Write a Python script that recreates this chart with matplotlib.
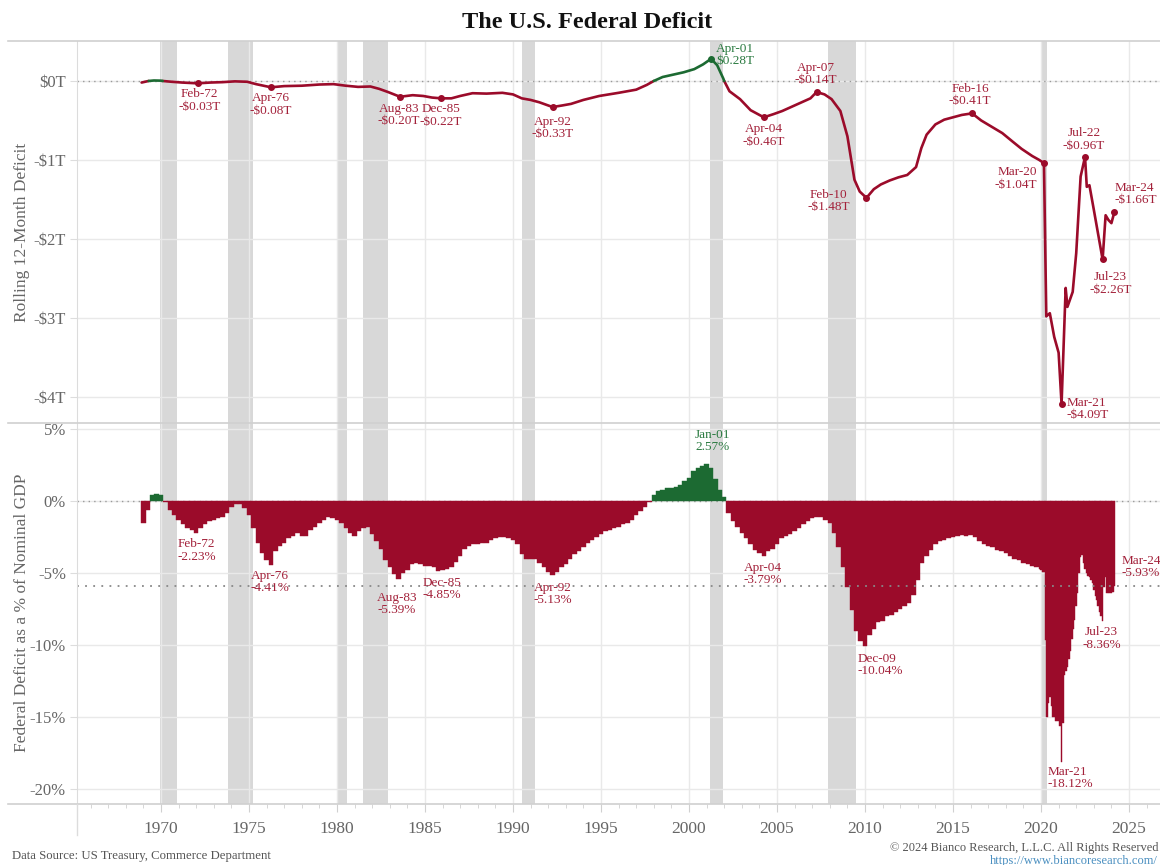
import numpy as np
import matplotlib
matplotlib.use("Agg")
import matplotlib.pyplot as plt
from matplotlib.lines import Line2D
from matplotlib.ticker import MultipleLocator, FixedLocator

# ---------------- DATA ----------------
# Rolling 12-month deficit ($ trillions), decimal years
line_years = [1968.9, 1969.3, 1969.6, 1970.0, 1970.1, 1970.6, 1971.2, 1972.083, 1972.8, 1973.5,
              1974.2, 1974.9, 1975.4, 1976.25, 1977.0, 1978.0, 1979.0, 1979.8, 1980.5, 1981.2,
              1981.9, 1982.4, 1982.9, 1983.583, 1984.3, 1984.9, 1985.4, 1985.917, 1986.5, 1987.0,
              1987.7, 1988.5, 1989.4, 1990.0, 1990.5, 1991.0, 1991.5, 1992.25, 1992.8, 1993.3,
              1994.0, 1994.9, 1996.0, 1997.0, 1997.6, 1998.0, 1998.5, 1999.1, 1999.7, 2000.3,
              2000.8, 2001.25, 2001.6, 2001.95, 2002.0, 2002.3, 2002.9, 2003.5, 2004.25, 2004.8,
              2005.3, 2005.8, 2006.4, 2006.9, 2007.25, 2007.7, 2008.1, 2008.6, 2009.0, 2009.4,
              2009.7, 2010.083, 2010.5, 2010.9, 2011.4, 2011.9, 2012.4, 2012.9, 2013.2, 2013.5,
              2014.0, 2014.5, 2015.0, 2015.5, 2016.083, 2016.6, 2017.2, 2017.8, 2018.4, 2018.9,
              2019.5, 2019.9, 2020.167, 2020.3, 2020.5, 2020.75, 2021.0, 2021.167, 2021.4, 2021.5,
              2021.8, 2022.0, 2022.25, 2022.5, 2022.6, 2022.75, 2023.0, 2023.5, 2023.67, 2023.83,
              2024.0, 2024.167]
line_values = [-0.02, 0.0, 0.006, 0.004, 0.0, -0.01, -0.02, -0.03, -0.02, -0.015,
               -0.005, -0.01, -0.04, -0.08, -0.065, -0.06, -0.045, -0.04, -0.06, -0.075,
               -0.07, -0.10, -0.14, -0.20, -0.18, -0.19, -0.21, -0.22, -0.22, -0.19,
               -0.155, -0.16, -0.15, -0.17, -0.22, -0.24, -0.27, -0.33, -0.31, -0.29,
               -0.24, -0.19, -0.15, -0.11, -0.05, 0.0, 0.05, 0.08, 0.11, 0.15,
               0.21, 0.28, 0.20, 0.03, 0.0, -0.13, -0.23, -0.37, -0.46, -0.42,
               -0.38, -0.33, -0.27, -0.22, -0.14, -0.17, -0.23, -0.38, -0.70, -1.25,
               -1.40, -1.48, -1.37, -1.31, -1.26, -1.22, -1.19, -1.09, -0.85, -0.68,
               -0.55, -0.49, -0.46, -0.43, -0.41, -0.50, -0.58, -0.66, -0.77, -0.86,
               -0.95, -1.00, -1.04, -2.98, -2.94, -3.24, -3.44, -4.09, -2.62, -2.86,
               -2.67, -2.18, -1.21, -0.96, -1.34, -1.32, -1.63, -2.26, -1.70, -1.76,
               -1.80, -1.66]

# Federal deficit as % of nominal GDP, quarterly 1969.0 - 2019.75
pct_quarterly_start = 1969.0
pct_quarterly = [
    -1.5, -0.6, 0.4, 0.5,        # 1969
    0.45, -0.1, -0.6, -1.0,      # 1970
    -1.3, -1.6, -1.9, -2.0,      # 1971
    -2.23, -1.9, -1.6, -1.4,     # 1972
    -1.3, -1.2, -1.1, -0.8,      # 1973
    -0.4, -0.2, -0.2, -0.5,      # 1974
    -1.0, -1.9, -2.9, -3.6,      # 1975
    -4.1, -4.41, -3.5, -3.1,     # 1976
    -2.9, -2.6, -2.4, -2.2,      # 1977
    -2.4, -2.4, -2.0, -1.8,      # 1978
    -1.5, -1.3, -1.1, -1.2,      # 1979
    -1.3, -1.5, -1.9, -2.2,      # 1980
    -2.4, -2.1, -1.9, -1.8,      # 1981
    -2.3, -2.8, -3.3, -4.1,      # 1982
    -4.6, -5.1, -5.39, -5.0,     # 1983
    -4.8, -4.4, -4.3, -4.4,      # 1984
    -4.5, -4.5, -4.6, -4.85,     # 1985
    -4.8, -4.7, -4.6, -4.2,      # 1986
    -3.8, -3.3, -3.1, -3.0,      # 1987
    -3.0, -2.9, -2.9, -2.7,      # 1988
    -2.6, -2.5, -2.5, -2.6,      # 1989
    -2.7, -3.0, -3.7, -4.0,      # 1990
    -4.0, -4.0, -4.3, -4.6,      # 1991
    -4.9, -5.13, -4.9, -4.6,     # 1992
    -4.4, -4.0, -3.7, -3.5,      # 1993
    -3.2, -2.9, -2.7, -2.5,      # 1994
    -2.3, -2.1, -2.0, -1.9,      # 1995
    -1.8, -1.6, -1.5, -1.3,      # 1996
    -1.0, -0.7, -0.4, -0.1,      # 1997
    0.4, 0.7, 0.8, 0.9,          # 1998
    0.9, 1.0, 1.1, 1.4,          # 1999
    1.6, 2.1, 2.3, 2.4,          # 2000
    2.57, 2.3, 1.5, 0.8,         # 2001
    0.3, -0.8, -1.4, -1.8,       # 2002
    -2.2, -2.6, -3.0, -3.4,      # 2003
    -3.6, -3.79, -3.5, -3.3,     # 2004
    -3.0, -2.6, -2.4, -2.3,      # 2005
    -2.1, -1.9, -1.6, -1.4,      # 2006
    -1.2, -1.1, -1.1, -1.3,      # 2007
    -1.5, -2.2, -3.2, -4.6,      # 2008
    -6.0, -7.6, -9.0, -9.7,      # 2009
    -10.04, -9.3, -8.9, -8.4,    # 2010
    -8.3, -8.0, -7.9, -7.7,      # 2011
    -7.5, -7.3, -7.1, -6.5,      # 2012
    -5.5, -4.3, -3.8, -3.4,      # 2013
    -3.0, -2.8, -2.7, -2.6,      # 2014
    -2.5, -2.4, -2.35, -2.4,     # 2015
    -2.35, -2.5, -2.8, -3.0,     # 2016
    -3.1, -3.2, -3.4, -3.5,      # 2017
    -3.6, -3.8, -4.0, -4.1,      # 2018
    -4.3, -4.4, -4.5, -4.6,      # 2019
]
# monthly from Dec 2019 to Mar 2024
pct_monthly_start = 2019 + 11 / 12
pct_monthly = [
    -4.7,                                                                       # Dec 2019
    -4.8, -4.9, -4.9, -9.65, -15.0, -14.0, -13.6, -14.2, -15.0, -15.0, -15.3, -15.3,  # 2020
    -15.3, -15.6, -18.12, -15.4, -12.1, -11.8, -11.5, -11.0, -10.4, -9.6, -8.9, -8.26,  # 2021
    -7.3, -6.4, -5.0, -3.87, -3.75, -4.3, -4.7, -5.0, -5.2, -5.3, -5.5, -5.7,        # 2022
    -6.2, -6.6, -6.9, -7.3, -7.7, -8.0, -8.36, -5.95, -5.25, -6.4, -6.4, -6.4,       # 2023
    -6.4, -6.3, -5.93,                                                             # 2024
]
avg_pct = -5.93

# NBER recessions (start, end) in decimal years
recessions = [(1969.92, 1970.92), (1973.83, 1975.25), (1980.0, 1980.58), (1981.5, 1982.92),
              (1990.5, 1991.25), (2001.17, 2001.92), (2007.92, 2009.5), (2020.08, 2020.33)]

# Annotations: (year, value, line1, line2)
top_notes = [(1972.083, -0.03, "Feb-72", "-\\$0.03T"), (1976.25, -0.08, "Apr-76", "-\\$0.08T"),
             (1983.583, -0.20, "Aug-83", "-\\$0.20T"), (1985.917, -0.22, "Dec-85", "-\\$0.22T"),
             (1992.25, -0.33, "Apr-92", "-\\$0.33T"), (2001.25, 0.28, "Apr-01", "\\$0.28T"),
             (2004.25, -0.46, "Apr-04", "-\\$0.46T"), (2007.25, -0.14, "Apr-07", "-\\$0.14T"),
             (2010.083, -1.48, "Feb-10", "-\\$1.48T"), (2016.083, -0.41, "Feb-16", "-\\$0.41T"),
             (2020.167, -1.04, "Mar-20", "-\\$1.04T"), (2021.167, -4.09, "Mar-21", "-\\$4.09T"),
             (2022.5, -0.96, "Jul-22", "-\\$0.96T"), (2023.5, -2.26, "Jul-23", "-\\$2.26T"),
             (2024.167, -1.66, "Mar-24", "-\\$1.66T")]
bot_notes = [(1972.083, -2.23, "Feb-72", "-2.23%"), (1976.25, -4.41, "Apr-76", "-4.41%"),
             (1983.583, -5.39, "Aug-83", "-5.39%"), (1985.917, -4.85, "Dec-85", "-4.85%"),
             (1992.25, -5.13, "Apr-92", "-5.13%"), (2001.0, 2.57, "Jan-01", "2.57%"),
             (2004.25, -3.79, "Apr-04", "-3.79%"), (2009.917, -10.04, "Dec-09", "-10.04%"),
             (2021.167, -18.12, "Mar-21", "-18.12%"), (2023.5, -8.36, "Jul-23", "-8.36%"),
             (2024.167, -5.93, "Mar-24", "-5.93%")]

top_ticks = [0, -1, -2, -3, -4]
top_tick_labels = ["\\$0T", "-\\$1T", "-\\$2T", "-\\$3T", "-\\$4T"]
bot_ticks = [5, 0, -5, -10, -15, -20]
bot_tick_labels = ["5%", "0%", "-5%", "-10%", "-15%", "-20%"]
x_ticks = [1970, 1975, 1980, 1985, 1990, 1995, 2000, 2005, 2010, 2015, 2020, 2025]

# ---------------- STYLE ----------------
W, H = 1160, 865
RED = "#9b0b2a"
GREEN = "#1c6a32"
TXT_RED = "#a3213a"
TXT_GREEN = "#2a7a40"
GRAY_TXT = "#666666"
BAND = "#d8d8d8"
GRID = "#e9e9e9"
SERIF = ["Liberation Serif", "DejaVu Serif"]
plt.rcParams["font.family"] = SERIF

fig = plt.figure(figsize=(W / 100, H / 100), dpi=100)
fig.patch.set_facecolor("white")

def fx(px):
    return px / W

def fy(py):
    return 1 - py / H

ax1 = fig.add_axes([fx(77), fy(423), 1 - fx(77), fy(41) - fy(423)])
ax2 = fig.add_axes([fx(77), fy(804), 1 - fx(77), fy(423) - fy(804)])

XLIM = (1965.23, 2026.76)
for ax in (ax1, ax2):
    ax.set_xlim(*XLIM)
    ax.set_axisbelow(True)
    for s in ("top", "right", "bottom"):
        ax.spines[s].set_visible(False)
    ax.spines["left"].set_color("#dcdcdc")
    ax.xaxis.set_major_locator(FixedLocator(x_ticks))
    ax.grid(axis="x", color=GRID, lw=1.0)
    ax.grid(axis="y", color=GRID, lw=1.0)
    for a, b in recessions:
        ax.axvspan(a, b, color=BAND, lw=0, zorder=0.2)
    ax.tick_params(axis="y", colors="#dddddd", labelcolor=GRAY_TXT, labelsize=12,
                   length=5, pad=3)

# ---------- top panel ----------
ax1.set_ylim(-4.33, 0.506)
ax1.set_yticks(top_ticks)
ax1.set_yticklabels(top_tick_labels)
ax1.tick_params(axis="x", length=0, labelbottom=False)
ax1.axhline(0, color="#999999", lw=1.0, ls=(0, (1, 3)), zorder=1.5)

ly = np.array(line_years)
lv = np.array(line_values)
ax1.plot(ly, np.ma.masked_where(lv > 0, lv), color=RED, lw=1.9, zorder=3,
         solid_capstyle="round", solid_joinstyle="round")
ax1.plot(ly, np.ma.masked_where(lv < 0, lv), color=GREEN, lw=1.9, zorder=3.1,
         solid_capstyle="round", solid_joinstyle="round")

top_offsets = {
    "Feb-72": (2, -5, "center", "top"), "Apr-76": (0, -5, "center", "top"),
    "Aug-83": (-1, -6, "center", "top"), "Dec-85": (0, -5, "center", "top"),
    "Apr-92": (0, -9, "center", "top"), "Apr-01": (5, 4, "left", "center"),
    "Apr-04": (0, -6, "center", "top"), "Apr-07": (-1, 6, "center", "bottom"),
    "Feb-10": (-38, -3, "center", "center"), "Feb-16": (-2, 6, "center", "bottom"),
    "Mar-20": (-7, -3, "right", "top"), "Mar-21": (5, -5, "left", "center"),
    "Jul-22": (-1, 5, "center", "bottom"), "Jul-23": (8, -12, "center", "top"),
    "Mar-24": (0, 6, "left", "bottom"),
}
for yr, v, l1, l2 in top_notes:
    c = GREEN if v > 0 else RED
    tc = TXT_GREEN if v > 0 else TXT_RED
    ax1.plot([yr], [v], "o", ms=4, color=c, zorder=4)
    dx, dy, ha, va = top_offsets[l1]
    ax1.annotate(l1 + "\n" + l2, (yr, v), xytext=(dx, dy), textcoords="offset pixels",
                 ha=ha, va=va, fontsize=9.5, color=tc, linespacing=1.05,
                 multialignment="center" if ha == "center" else ha, zorder=5)

# ---------- bottom panel ----------
ax2.set_ylim(-21.04, 5.42)
ax2.set_yticks(bot_ticks)
ax2.set_yticklabels(bot_tick_labels)
ax2.axhline(0, color="#999999", lw=1.0, ls=(0, (1, 3)), zorder=1.5)

qx = pct_quarterly_start + np.arange(len(pct_quarterly)) * 0.25
qv = np.array(pct_quarterly)
mx = pct_monthly_start + np.arange(len(pct_monthly)) / 12
mv = np.array(pct_monthly)
for xs, vs, w in ((qx, qv, 0.25), (mx, mv, 1 / 12)):
    cols = [GREEN if v > 0 else RED for v in vs]
    ax2.bar(xs, vs, width=w, color=cols, edgecolor=cols, linewidth=0.3, zorder=2)

ax2.axhline(avg_pct, color="#888888", lw=1.3, ls=(0, (1, 3.5)), zorder=2.5)

ax2.xaxis.set_minor_locator(MultipleLocator(1))
ax2.tick_params(axis="x", which="major", length=6, color="#d0d0d0", labelcolor=GRAY_TXT,
                labelsize=12.5, pad=6)
ax2.tick_params(axis="x", which="minor", length=3, color="#d0d0d0")

bot_offsets = {
    "Feb-72": (-1, -5, "center", "top"), "Apr-76": (-1, -5, "center", "top"),
    "Aug-83": (-3, -13, "center", "top"), "Dec-85": (1, -6, "center", "top"),
    "Apr-92": (0, -7, "center", "top"), "Jan-01": (6, 11, "center", "bottom"),
    "Apr-04": (-1, -6, "center", "top"), "Dec-09": (-6, -7, "left", "top"),
    "Mar-21": (-14, -4, "left", "top"), "Jul-23": (-1, -5, "center", "top"),
    "Mar-24": (7, 7, "left", "bottom"),
}
for yr, v, l1, l2 in bot_notes:
    tc = TXT_GREEN if v > 0 else TXT_RED
    dx, dy, ha, va = bot_offsets[l1]
    ax2.annotate(l1 + "\n" + l2, (yr, v), xytext=(dx, dy), textcoords="offset pixels",
                 ha=ha, va=va, fontsize=9.5, color=tc, linespacing=1.05,
                 multialignment="center" if ha == "center" else ha, zorder=5)

# ---------- frame lines ----------
for py in (41, 423, 804):
    fig.add_artist(Line2D([fx(8), 1], [fy(py), fy(py)], color="#d0d0d0", lw=1.2,
                          transform=fig.transFigure))
fig.add_artist(Line2D([fx(77), fx(77)], [fy(804), fy(835)], color="#dcdcdc", lw=1.0,
                      transform=fig.transFigure))

# ---------- texts ----------
fig.text(fx(587), fy(22), "The U.S. Federal Deficit", ha="center", va="center",
         fontsize=17.5, fontweight="bold", color="#111111")
fig.text(fx(22), fy(232), "Rolling 12-Month Deficit", rotation=90, ha="center",
         va="center", fontsize=12.5, color=GRAY_TXT)
fig.text(fx(22), fy(613), "Federal Deficit as a % of Nominal GDP", rotation=90,
         ha="center", va="center", fontsize=12.5, color=GRAY_TXT)
fig.text(fx(12), fy(856), "Data Source: US Treasury, Commerce Department", ha="left",
         va="center", fontsize=9.2, color="#555555")
fig.text(fx(1158), fy(848), "\u00a9 2024 Bianco Research, L.L.C. All Rights Reserved",
         ha="right", va="center", fontsize=9.0, color="#555555")
fig.text(fx(1158), fy(861), "https://www.biancoresearch.com/", ha="right", va="center",
         fontsize=9.0, color="#4a8fc0")

fig.savefig("out.png", dpi=100, facecolor="white")
